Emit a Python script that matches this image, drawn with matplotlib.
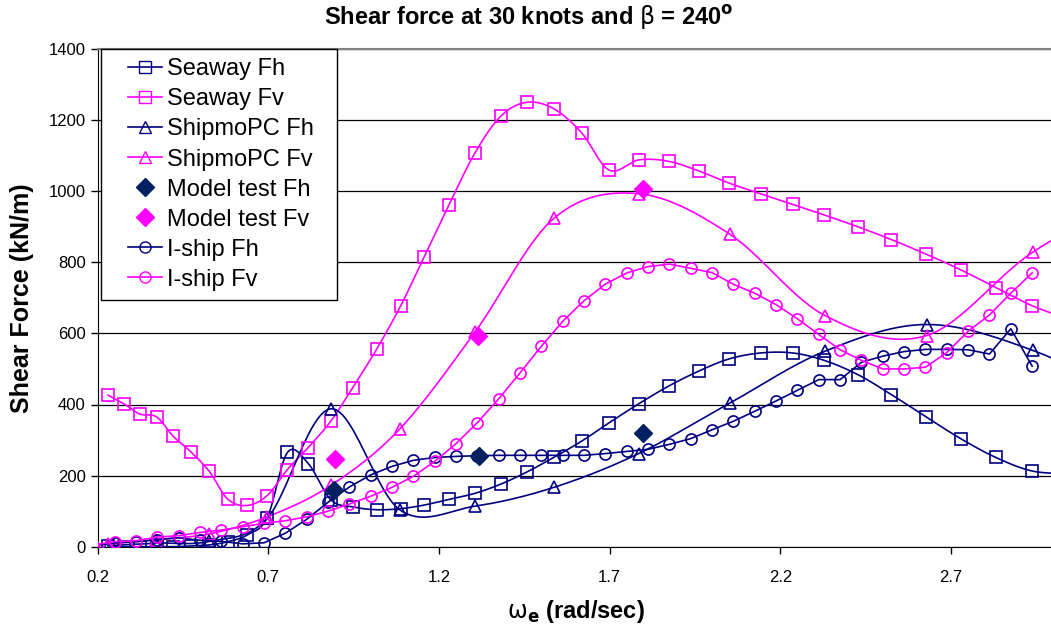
import numpy as np
import matplotlib
matplotlib.use('Agg')
import matplotlib.pyplot as plt
from matplotlib.lines import Line2D
from matplotlib.legend_handler import HandlerLine2D

plt.rcParams['font.family'] = ['Liberation Sans', 'DejaVu Sans']
plt.rcParams['mathtext.fontset'] = 'dejavusans'

NAVY = '#000080'
MAGENTA = '#FF00FF'
DARK_NAVY = '#00205F'

# Seaway (smoothed line)
seaway_w = [0.231, 0.277, 0.324, 0.373, 0.422, 0.473, 0.527, 0.581, 0.638, 0.697,
            0.756, 0.817, 0.883, 0.947, 1.017, 1.088, 1.156, 1.229, 1.305, 1.381,
            1.457, 1.536, 1.618, 1.699, 1.785, 1.873, 1.961, 2.049, 2.142, 2.236,
            2.329, 2.427, 2.525, 2.627, 2.728, 2.831, 2.937, 3.045]
seaway_fh = [3, 0, 0, 0, 0, 2, 5, 14, 33, 82,
             265, 234, 132, 112, 104, 107, 117, 133, 150, 176,
             210, 251, 297, 349, 402, 452, 494, 528, 545, 545,
             524, 484, 428, 365, 304, 251, 213, 205]
seaway_fv = [426, 402, 373, 365, 310, 267, 212, 134, 116, 144,
             217, 279, 353, 447, 555, 678, 814, 961, 1107, 1211,
             1250, 1232, 1164, 1059, 1088, 1084, 1057, 1023, 993, 963,
             933, 900, 864, 823, 779, 729, 678, 640]

# ShipmoPC (smoothed line)
shipmo_w = [0.231, 0.372, 0.527, 0.697, 0.884, 1.086, 1.305, 1.537, 1.785, 2.052,
            2.331, 2.628, 2.94, 3.27]
shipmo_fh = [3, 10, 15, 80, 388, 103, 114, 167, 262, 404, 550, 625, 552, 400]
shipmo_fv = [7, 20, 36, 84, 173, 332, 603, 924, 993, 879, 650, 594, 829, 1000]

# Model test (markers only)
model_w_fh = [0.893, 1.316, 1.799]
model_fh = [159, 254, 320]
model_w_fv = [0.895, 1.315, 1.799]
model_fv = [248, 594, 1005]

# I-ship (straight segments)
iship_w = [0.1875, 0.25, 0.3125, 0.375, 0.4375, 0.5, 0.5625, 0.625, 0.6875, 0.75,
           0.8125, 0.875, 0.9375, 1.0, 1.0625, 1.125, 1.1875, 1.25, 1.3125, 1.375,
           1.4375, 1.5, 1.5625, 1.625, 1.6875, 1.75, 1.8125, 1.875, 1.9375, 2.0,
           2.0625, 2.125, 2.1875, 2.25, 2.3125, 2.375, 2.4375, 2.5, 2.5625, 2.625,
           2.6875, 2.75, 2.8125, 2.875, 2.9375]
iship_fh = [3, 11, 14, 20, 25, 18, 15, 8, 11, 38,
            77, 125, 168, 202, 226, 243, 251, 254, 256, 257,
            257, 257, 257, 257, 262, 268, 274, 288, 304, 329,
            353, 381, 410, 440, 470, 470, 519, 536, 549, 555,
            555, 554, 542, 613, 508]
iship_fv = [5, 14, 17, 27, 31, 40, 47, 56, 66, 73,
            84, 100, 120, 142, 167, 198, 240, 290, 349, 416,
            489, 564, 634, 692, 739, 770, 788, 795, 783, 771,
            738, 713, 681, 641, 597, 554, 524, 500, 500, 505,
            546, 606, 652, 713, 770]

labels = ['Seaway Fh', 'Seaway Fv', 'ShipmoPC Fh', 'ShipmoPC Fv',
          'Model test Fh', 'Model test Fv', 'I-ship Fh', 'I-ship Fv']
x_ticks = [0.2, 0.7, 1.2, 1.7, 2.2, 2.7]
y_ticks = [0, 200, 400, 600, 800, 1000, 1200, 1400]


def smooth(x, y, n=30):
    """Excel-like smoothed line (Catmull-Rom as cubic Bezier)"""
    x = np.asarray(x, float)
    y = np.asarray(y, float)
    px = np.concatenate([[x[0]], x, [x[-1]]])
    py = np.concatenate([[y[0]], y, [y[-1]]])
    t = np.linspace(0, 1, n)
    xs, ys = [], []
    for i in range(len(x) - 1):
        x0, x1, x2, x3 = px[i:i + 4]
        y0, y1, y2, y3 = py[i:i + 4]
        cx1, cy1 = x1 + (x2 - x0) / 6, y1 + (y2 - y0) / 6
        cx2, cy2 = x2 - (x3 - x1) / 6, y2 - (y3 - y1) / 6
        b0 = (1 - t) ** 3
        b1 = 3 * (1 - t) ** 2 * t
        b2 = 3 * (1 - t) * t ** 2
        b3 = t ** 3
        xs.append(b0 * x1 + b1 * cx1 + b2 * cx2 + b3 * x2)
        ys.append(b0 * y1 + b1 * cy1 + b2 * cy2 + b3 * y2)
    return np.concatenate(xs), np.concatenate(ys)


class ExcelHandler(HandlerLine2D):
    """Legend key like Excel: short line on the right part of the handle box"""
    def create_artists(self, legend, orig_handle, xdescent, ydescent,
                       width, height, fontsize, trans):
        artists = super().create_artists(legend, orig_handle, xdescent, ydescent,
                                         width, height, fontsize, trans)
        x0 = -xdescent + 0.35 * width
        x1 = -xdescent + width
        xm = 0.5 * (x0 + x1)
        line = artists[0]
        y = line.get_ydata()[0]
        if len(artists) == 1:
            line.set_data([x0, xm, x1], [y, y, y])
        else:
            line.set_data([x0, x1], [y, y])
            artists[1].set_data([xm], [y])
        return artists


fig = plt.figure(figsize=(10.51, 6.29), dpi=100)
ax = fig.add_axes([97.6 / 1051, 82.3 / 629, 955.9 / 1051, 497.7 / 629])

lw = 1.2
ms = 8

series = [
    (seaway_w, seaway_fh, NAVY, 's'),
    (seaway_w, seaway_fv, MAGENTA, 's'),
    (shipmo_w, shipmo_fh, NAVY, '^'),
    (shipmo_w, shipmo_fv, MAGENTA, '^'),
]
for w, f, col, mk in series:
    sx, sy = smooth(w, f)
    ax.plot(sx, sy, color=col, lw=lw, zorder=3)
    ax.plot(w, f, linestyle='none', marker=mk, ms=ms, mfc='none', mec=col, mew=1.2, zorder=4)

ax.plot(model_w_fh, model_fh, linestyle='none', marker='D', ms=9, color=DARK_NAVY, zorder=5)
ax.plot(model_w_fv, model_fv, linestyle='none', marker='D', ms=9, color=MAGENTA, zorder=5)

ax.plot(iship_w, iship_fh, color=NAVY, lw=lw, marker='o', ms=ms, mfc='none', mec=NAVY, mew=1.2, zorder=4)
ax.plot(iship_w, iship_fv, color=MAGENTA, lw=lw, marker='o', ms=ms, mfc='none', mec=MAGENTA, mew=1.2, zorder=4)

ax.set_xlim(0.2, 3.0)
ax.set_ylim(0, 1400)
ax.set_xticks(x_ticks)
ax.set_xticklabels([f'{v:.1f}' for v in x_ticks])
ax.set_yticks(y_ticks)
ax.tick_params(direction='out', length=5, width=1, labelsize=12, color='black')
ax.tick_params(axis='x', pad=12)
ax.grid(axis='y', color='black', lw=0.9)
ax.set_axisbelow(True)
ax.spines['right'].set_visible(False)
ax.spines['top'].set_color('#808080')
ax.spines['top'].set_linewidth(1.5)

fig.text(529 / 1051, 1 - 18 / 629,
         r'Shear force at 30 knots and $\mathrm{\beta}$ = 240$^{\mathbf{o}}$',
         ha='center', va='center', fontsize=17, fontweight='bold')
ax.set_xlabel(r'$\mathrm{\omega}_{\mathbf{e}}$ (rad/sec)', fontsize=17, fontweight='bold', labelpad=9)
ax.set_ylabel('Shear Force (kN/m)', fontsize=18, fontweight='bold')
ax.yaxis.label.set_va('center')
ax.yaxis.set_label_coords((22 - 97.6) / 955.9, 0.5)

handles = [
    Line2D([], [], color=NAVY, lw=lw, marker='s', ms=ms, mfc='none', mec=NAVY),
    Line2D([], [], color=MAGENTA, lw=lw, marker='s', ms=ms, mfc='none', mec=MAGENTA),
    Line2D([], [], color=NAVY, lw=lw, marker='^', ms=ms, mfc='none', mec=NAVY),
    Line2D([], [], color=MAGENTA, lw=lw, marker='^', ms=ms, mfc='none', mec=MAGENTA),
    Line2D([], [], linestyle='none', marker='D', ms=9, color=DARK_NAVY),
    Line2D([], [], linestyle='none', marker='D', ms=9, color=MAGENTA),
    Line2D([], [], color=NAVY, lw=lw, marker='o', ms=ms, mfc='none', mec=NAVY),
    Line2D([], [], color=MAGENTA, lw=lw, marker='o', ms=ms, mfc='none', mec=MAGENTA),
]
leg = ax.legend(handles, labels, loc='upper left',
                bbox_to_anchor=(3.5 / 955.9, 0, 236 / 955.9, 1.0), mode='expand',
                borderaxespad=0, fancybox=False, edgecolor='black', framealpha=1,
                fontsize=17, handlelength=2.16, handletextpad=0.25, labelspacing=0.34,
                borderpad=0.4, handler_map={Line2D: ExcelHandler(numpoints=1)})
leg.get_frame().set_linewidth(1.0)

fig.savefig('out.png', dpi=100)
